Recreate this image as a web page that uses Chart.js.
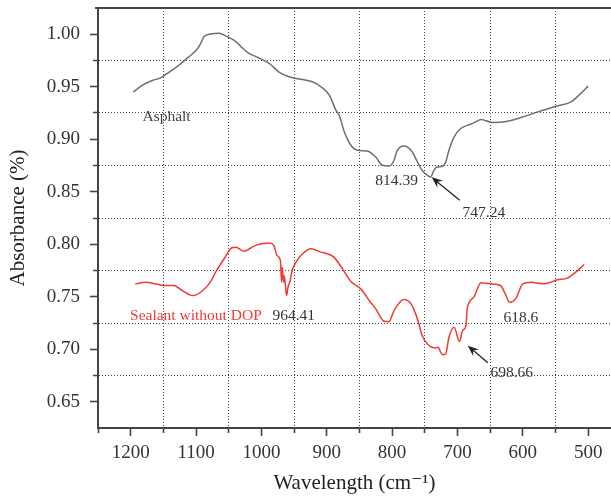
<!DOCTYPE html>
<html><head><meta charset="utf-8">
<script src="https://cdn.jsdelivr.net/npm/chart.js@4"></script>
<style>html,body{margin:0;padding:0;background:#fff;overflow:hidden}canvas{display:block}</style>
</head><body>
<canvas id="c" width="611" height="498"></canvas>
<script>
// ---- data ----
const seriesNames = ['Asphalt', 'Sealant without DOP'];

const asphaltWavenumber = [1196,1182,1167,1154,1141,1126,1111,1098,1093,1088,1077.5,1065,1052,1039,1031,1019,1004,988,973,958,942,922,909,896,886,881,873,863,853,838,825,815,804,797,792,782,771,761,754,746,741,736,731,723,718,713,705,695,680,672,664,646,623,603,572,549,526,514,500];
const asphaltAbsorbance = [0.945,0.9515,0.956,0.9585,0.964,0.9706,0.9785,0.9859,0.991,0.9976,1.0002,1.001,0.9976,0.993,0.988,0.9818,0.9776,0.9722,0.964,0.9595,0.9573,0.9547,0.950,0.942,0.9277,0.923,0.907,0.8943,0.8895,0.8888,0.8831,0.8752,0.8745,0.880,0.8895,0.8936,0.8895,0.8783,0.8704,0.8657,0.864,0.8704,0.8736,0.8742,0.8783,0.8895,0.9022,0.9102,0.9143,0.9165,0.9188,0.9159,0.9172,0.9207,0.927,0.9315,0.9356,0.942,0.9506];

const sealantWavenumber = [1193,1177,1162,1149,1134,1121,1105,1093,1078,1070,1057,1045,1039,1027,1009,988,981,976,971,969,968,966,965,963,961.5,959,956,953,947,937,924,909,902,889,876,863,848,833,825,812,805,797,782,771,764,759,754,746,733,730,723,718,713,705,697,692,687,685,675,664,649,634,628,620,611,600,588,567,547,532,519,506];
const sealantAbsorbance = [0.7623,0.7639,0.7623,0.7607,0.7607,0.7559,0.7511,0.7543,0.7639,0.7734,0.7862,0.7967,0.7972,0.7934,0.7989,0.8011,0.7989,0.7893,0.785,0.7639,0.778,0.7639,0.770,0.760,0.7511,0.760,0.765,0.775,0.7829,0.7909,0.7957,0.7925,0.7915,0.7877,0.7766,0.7645,0.7575,0.7448,0.7384,0.7266,0.7262,0.7368,0.7473,0.7432,0.7337,0.7242,0.713,0.705,0.7012,0.7018,0.6948,0.6955,0.7114,0.7209,0.7073,0.7177,0.7225,0.7384,0.7495,0.7633,0.7623,0.7607,0.7543,0.7448,0.748,0.7623,0.7639,0.7623,0.7661,0.7677,0.7734,0.7807];

const xMajorTicks = [1200,1100,1000,900,800,700,600,500];
const xMinorTicks = [1250,1150,1050,950,850,750,650,550];
const yMajorTicks = [0.65,0.70,0.75,0.80,0.85,0.90,0.95,1.00];
const yMinorTicks = [0.675,0.725,0.775,0.825,0.875,0.925,0.975];

// ---- annotations (placed in data coordinates) ----
const annotationTexts = [
  {text:'Asphalt', x:1182, y:0.9213, align:'left', color:'#444'},
  {text:'814.39', x:793, y:0.8605, align:'center', color:'#333'},
  {text:'747.24', x:659.6, y:0.8300, align:'center', color:'#333'},
  {text:'Sealant without DOP', x:1201, y:0.7321, align:'left', color:'#ee3b34'},
  {text:'964.41', x:950.4, y:0.7321, align:'center', color:'#333'},
  {text:'618.6', x:603, y:0.7302, align:'center', color:'#333'},
  {text:'698.66', x:616.8, y:0.6777, align:'center', color:'#333'}
];
const annotationArrows = [
  {from:[696.4,0.8418], to:[739.3,0.8637]},
  {from:[653.6,0.6872], to:[684.2,0.7034]}
];

const SERIF = '"Liberation Serif", "DejaVu Serif", serif';
const near = (a, b) => Math.abs(a - b) < 1e-6;
const inList = (list, v) => list.some(t => near(t, v));

const annotationPlugin = {
  id: 'annot',
  afterDatasetsDraw(chart) {
    const {ctx, chartArea, scales: {x, y}} = chart;
    ctx.save();
    // top frame line
    ctx.strokeStyle = '#444'; ctx.lineWidth = 2;
    ctx.beginPath(); ctx.moveTo(chartArea.left - 3, chartArea.top); ctx.lineTo(chartArea.right, chartArea.top); ctx.stroke();
    ctx.font = '15.5px ' + SERIF;
    ctx.textBaseline = 'middle';
    annotationTexts.forEach(a => {
      ctx.fillStyle = a.color; ctx.textAlign = a.align;
      ctx.fillText(a.text, x.getPixelForValue(a.x), y.getPixelForValue(a.y));
    });
    annotationArrows.forEach(a => {
      const x1 = x.getPixelForValue(a.from[0]), y1 = y.getPixelForValue(a.from[1]);
      const x2 = x.getPixelForValue(a.to[0]), y2 = y.getPixelForValue(a.to[1]);
      const ang = Math.atan2(y2 - y1, x2 - x1);
      ctx.strokeStyle = '#222'; ctx.fillStyle = '#222'; ctx.lineWidth = 1.3;
      ctx.beginPath(); ctx.moveTo(x1, y1);
      ctx.lineTo(x2 - 6 * Math.cos(ang), y2 - 6 * Math.sin(ang)); ctx.stroke();
      const L = 11, W = 4.5;
      ctx.beginPath();
      ctx.moveTo(x2, y2);
      ctx.lineTo(x2 - L * Math.cos(ang) + W * Math.sin(ang), y2 - L * Math.sin(ang) - W * Math.cos(ang));
      ctx.lineTo(x2 - 7 * Math.cos(ang), y2 - 7 * Math.sin(ang));
      ctx.lineTo(x2 - L * Math.cos(ang) - W * Math.sin(ang), y2 - L * Math.sin(ang) + W * Math.cos(ang));
      ctx.closePath(); ctx.fill();
    });
    ctx.restore();
  }
};

new Chart(document.getElementById('c'), {
  type: 'scatter',
  data: {
    datasets: [
      {label: seriesNames[0], data: asphaltWavenumber.map((v, i) => ({x: v, y: asphaltAbsorbance[i]})),
       showLine: true, borderColor: '#6e6e6e', borderWidth: 1.5, pointRadius: 0, cubicInterpolationMode: 'monotone', fill: false},
      {label: seriesNames[1], data: sealantWavenumber.map((v, i) => ({x: v, y: sealantAbsorbance[i]})),
       showLine: true, borderColor: '#ee3b34', borderWidth: 1.5, pointRadius: 0, cubicInterpolationMode: 'monotone', fill: false}
    ]
  },
  options: {
    responsive: false, animation: false, devicePixelRatio: 1,
    layout: {padding: {top: 8, right: 0, bottom: 0, left: 0}},
    plugins: {legend: {display: false}, tooltip: {enabled: false}},
    scales: {
      x: {
        type: 'linear', position: 'bottom', reverse: true, min: 465, max: 1250,
        afterFit: s => { s.height = 70; s.paddingLeft = 0; s.paddingRight = 0; s.paddingTop = 0; s.paddingBottom = 0; },
        afterBuildTicks: s => { s.ticks = xMinorTicks.concat(xMajorTicks).sort((a, b) => b - a).map(v => ({value: v})); },
        ticks: {autoSkip: false, maxRotation: 0, minRotation: 0, padding: 6, color: '#333',
                font: {family: SERIF, size: 19},
                callback: v => inList(xMajorTicks, v) ? String(v) : ''},
        grid: {
          color: c => (c.tick && inList(xMinorTicks, c.tick.value)) ? '#444' : 'rgba(0,0,0,0)',
          lineWidth: 1, drawTicks: true, tickLength: 8, tickColor: '#444', tickWidth: 1.6,
          tickBorderDash: c => (c.tick && inList(xMajorTicks, c.tick.value)) ? [] : [4, 100]
        },
        border: {display: true, color: '#444', width: 2, dash: [1, 2]},
        title: {display: true, text: 'Wavelength (cm\u207B\u00B9)', color: '#222', font: {family: SERIF, size: 21}, padding: {top: 0, bottom: 2}}
      },
      y: {
        type: 'linear', position: 'left', min: 0.625, max: 1.025,
        afterFit: s => { s.width = 98; s.paddingTop = 0; s.paddingBottom = 0; s.paddingLeft = 0; s.paddingRight = 0; },
        afterBuildTicks: s => { s.ticks = yMinorTicks.concat(yMajorTicks).sort((a, b) => a - b).map(v => ({value: v})); },
        ticks: {autoSkip: false, padding: 10, color: '#333', font: {family: SERIF, size: 19},
                callback: v => inList(yMajorTicks, v) ? v.toFixed(2) : ''},
        grid: {
          color: c => (c.tick && inList(yMinorTicks, c.tick.value)) ? '#444' : 'rgba(0,0,0,0)',
          lineWidth: 1, drawTicks: true, tickLength: 8, tickColor: '#444', tickWidth: 1.6,
          tickBorderDash: c => (c.tick && inList(yMajorTicks, c.tick.value)) ? [] : [0, 3, 4, 100]
        },
        border: {display: true, color: '#444', width: 2, dash: [1, 2]},
        title: {display: true, text: 'Absorbance (%)', color: '#222', font: {family: SERIF, size: 21}, padding: {top: 6, bottom: 0}}
      }
    }
  },
  plugins: [annotationPlugin]
});
</script>
</body></html>
